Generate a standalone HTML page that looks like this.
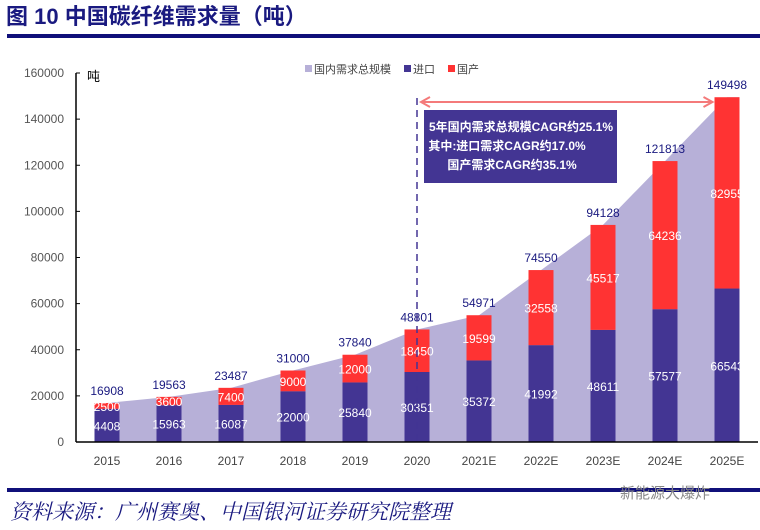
<!DOCTYPE html>
<html><head><meta charset="utf-8"><style>
body{margin:0;background:#fff;width:760px;height:525px;overflow:hidden;font-family:"Liberation Sans","Noto Sans CJK SC",sans-serif}
</style></head><body>
<svg width="760" height="525" xmlns="http://www.w3.org/2000/svg">
<text x="6" y="24" font-size="22" font-weight="bold" fill="#1a1a80" font-family="'Liberation Sans','Noto Sans CJK SC',sans-serif">图 10  中国碳纤维需求量（吨）</text>
<rect x="7" y="34" width="753" height="4" fill="#10107a"/>
<g id="plot"></g>
<rect x="7" y="488" width="753" height="4" fill="#10107a"/>
<text x="10" y="519" font-size="21" font-style="italic" fill="#1a1a80" font-family="'Noto Serif CJK SC','Noto Sans CJK SC',serif">资料来源：广州赛奥、中国银河证券研究院整理</text>
<text x="620" y="498" font-size="15" fill="#888">新能源大爆炸</text>
</svg>
<script>
const categories=["2015","2016","2017","2018","2019","2020","2021E","2022E","2023E","2024E","2025E"];
const totals=[16908,19563,23487,31000,37840,48801,54971,74550,94128,121813,149498];
const imports=[4408,15963,16087,22000,25840,30351,35372,41992,48611,57577,66543];
const domestic=[2500,3600,7400,9000,12000,18450,19599,32558,45517,64236,82955];
const yTicks=[0,20000,40000,60000,80000,100000,120000,140000,160000];
const NS="http://www.w3.org/2000/svg";
const g=document.getElementById('plot');
const x0=76,x1=758,y0=442,yTop=73,yMax=160000;
const band=(x1-x0)/categories.length,bw=25;
const y=v=>y0-(v/yMax)*(y0-yTop);
const cx=i=>x0+band*(i+0.5);
function el(t,a,txt){const e=document.createElementNS(NS,t);for(const k in a)e.setAttribute(k,a[k]);if(txt!=null)e.textContent=txt;g.appendChild(e);return e;}
let d=`M${cx(0)-bw/2},${y0} L${cx(0)-bw/2},${y(totals[0])}`;
totals.forEach((v,i)=>{d+=` L${cx(i)},${y(v)}`;});
d+=` L${cx(totals.length-1)+bw/2},${y(totals[totals.length-1])} L${cx(totals.length-1)+bw/2},${y0} Z`;
let a=el('path',{d:d,fill:'#b7b0d8'});


categories.forEach((c,i)=>{
 const imp=totals[i]-domestic[i];
 let b=el('rect',{x:cx(i)-bw/2,y:y(imp),width:bw,height:y0-y(imp),fill:'#433593'});
 
 
 let r=el('rect',{x:cx(i)-bw/2,y:y(totals[i]),width:bw,height:y(imp)-y(totals[i]),fill:'#ff3333'});
 
 
 let t=el('text',{x:cx(i),y:y(totals[i])-8,'text-anchor':'middle','font-size':12,fill:'#1a1a80'},totals[i]);
 
 
 let ti=el('text',{x:cx(i),y:Math.min(y(imp/2)+5,y0-8),'text-anchor':'middle','font-size':12,fill:'#fff'},imports[i]);
 
 
 let td=el('text',{x:cx(i),y:(y(imp)+y(totals[i]))/2+5,'text-anchor':'middle','font-size':12,fill:'#fff'},domestic[i]);
 
 
 let tx=el('text',{x:cx(i),y:y0+23,'text-anchor':'middle','font-size':12,fill:'#444'},c);
 
 
});
let ya=el('line',{x1:x0,y1:yTop,x2:x0,y2:y0,stroke:'#000','stroke-width':1.5});


let xa=el('line',{x1:x0,y1:y0,x2:x1,y2:y0,stroke:'#000','stroke-width':1.5});


yTicks.forEach(v=>{
 let tk=el('line',{x1:x0,y1:y(v),x2:x0+4,y2:y(v),stroke:'#000'});
 
 
 let t=el('text',{x:64,y:y(v)+4,'text-anchor':'end','font-size':12,fill:'#555'},v);
 
 
});
let un=el('text',{x:87,y:81,'font-size':13,fill:'#000'},'吨');


const leg=[['国内需求总规模','#b7b0d8',305],['进口','#433593',404],['国产','#ff3333',448]];
leg.forEach(l=>{
 let r=el('rect',{x:l[2],y:65,width:7,height:7,fill:l[1]});
 
 
 let t=el('text',{x:l[2]+9,y:73,'font-size':11,fill:'#444'},l[0]);
 
 
});
let dl=el('line',{x1:cx(5),y1:98,x2:cx(5),y2:y0,stroke:'#433593','stroke-width':1.5,'stroke-dasharray':'7,5'});


const ax1=cx(5)+4,ax2=cx(10)-bw/2-2,ay=102;
let ar=el('path',{d:`M${ax1},${ay} L${ax2},${ay} M${ax1+9},${ay-5} L${ax1},${ay} L${ax1+9},${ay+5} M${ax2-9},${ay-5} L${ax2},${ay} L${ax2-9},${ay+5}`,stroke:'#f47a7a','stroke-width':2,fill:'none'});


let bx=el('rect',{x:424,y:110,width:193,height:73,fill:'#433593'});


[['5年国内需求总规模CAGR约25.1%',521,131],['其中:进口需求CAGR约17.0%',507,150],['国产需求CAGR约35.1%',512,169]].forEach(s=>{
 let t=el('text',{x:s[1],y:s[2],'text-anchor':'middle','font-size':12,'font-weight':'bold',fill:'#fff'},s[0]);
 
 
});
</script>
</body></html>
